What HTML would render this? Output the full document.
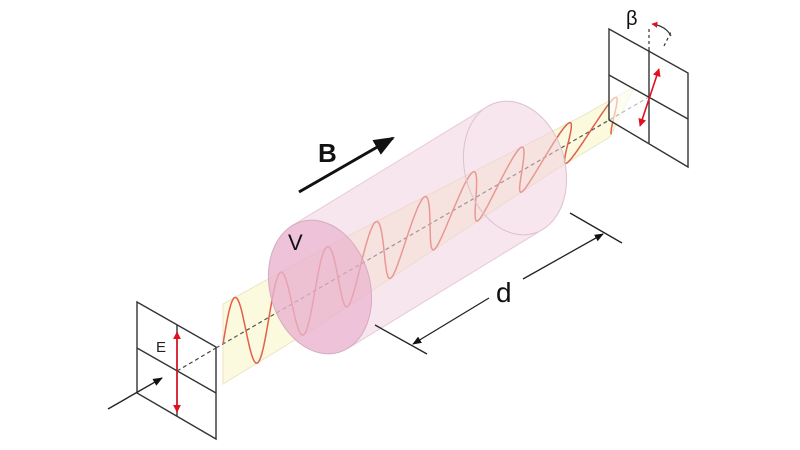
<!DOCTYPE html>
<html><head><meta charset="utf-8"><style>
html,body{margin:0;padding:0;background:#fff;width:800px;height:450px;overflow:hidden}
svg{display:block}
text{font-family:"Liberation Sans",sans-serif}
</style></head><body>
<svg id="s" width="800" height="450" viewBox="0 0 800 450" xmlns="http://www.w3.org/2000/svg">
<defs>
<marker id="ah" viewBox="0 0 10 10" refX="9" refY="5" markerWidth="7" markerHeight="7" orient="auto-start-reverse"><path d="M0,1 L10,5 L0,9 z" fill="#111"/></marker>
<marker id="rh" viewBox="0 0 10 10" refX="9" refY="5" markerWidth="5" markerHeight="6" orient="auto-start-reverse"><path d="M0,0 L10,5 L0,10 z" fill="#e01020"/></marker>
</defs>
<g stroke="#333" stroke-width="1.4" fill="none">
<polygon points="137,302 216,347 216,439 137,393" fill="#fff"/>
<line x1="137" y1="348" x2="216" y2="393"/>
<line x1="177" y1="325" x2="177" y2="416"/>
</g>
<line x1="177" y1="412" x2="177" y2="332" stroke="#e01020" stroke-width="1.6" marker-start="url(#rh)" marker-end="url(#rh)"/>
<text x="156" y="352" font-size="15" fill="#222">E</text>
<line x1="108" y1="409" x2="162" y2="378" stroke="#222" stroke-width="1.4" marker-end="url(#ah)"/>
<line x1="177" y1="371" x2="216" y2="348" stroke="#444" stroke-width="1.2" stroke-dasharray="4,3"/>
<g id="rib"></g>
<g id="cyl"></g>
<text x="288" y="250" font-size="22" fill="#111">V</text>
<g stroke="#333" stroke-width="1.4" fill="none">
<polygon points="609,29 688,73 688,167 609,120" fill="rgba(255,255,255,0.6)"/>
<line x1="609" y1="75" x2="688" y2="119"/>
<line x1="649" y1="50" x2="649" y2="143"/>
</g>
<line x1="649" y1="50" x2="649" y2="28" stroke="#333" stroke-width="1.2" stroke-dasharray="3,3"/>
<line x1="664" y1="46" x2="671" y2="32" stroke="#333" stroke-width="1.2" stroke-dasharray="3,3"/>
<path d="M652,24 Q666,26 671,36" stroke="#333" stroke-width="1.2" fill="none" marker-start="url(#rh)"/>
<text x="626" y="25" font-size="20" fill="#111">β</text>
<line x1="640" y1="126" x2="659" y2="69" stroke="#e01020" stroke-width="1.6" marker-start="url(#rh)" marker-end="url(#rh)"/>
<text x="318" y="162" font-size="26" font-weight="bold" fill="#111">B</text>
<line x1="299" y1="192" x2="393" y2="138" stroke="#111" stroke-width="3" marker-end="url(#ah)"/>
<g stroke="#222" stroke-width="1.3">
<line x1="375" y1="325" x2="427" y2="354"/>
<line x1="570" y1="213" x2="622" y2="243"/>
<line x1="489" y1="298" x2="413" y2="344" marker-end="url(#ah)"/>
<line x1="523" y1="279" x2="603" y2="234" marker-end="url(#ah)"/>
</g>
<text x="496" y="302" font-size="28" fill="#111">d</text>
</svg>
<script>
(function(){
var A=[223,344],B=[622,112];
var N=800,top=[],bot=[],wave=[];
function th(x){var a=(x-320)/(567-320);a=Math.max(0,Math.min(1,a));return a*0.45;}
for(var i=0;i<=N;i++){
 var t=i/N,x=A[0]+t*(B[0]-A[0]),y=A[1]+t*(B[1]-A[1]);
 var q=th(x),dx=Math.sin(q),dy=-Math.cos(q);
 var amp=40-12*t;
 top.push((x+dx*amp).toFixed(1)+','+(y+dy*amp).toFixed(1));
 bot.unshift((x-dx*amp).toFixed(1)+','+(y-dy*amp).toFixed(1));
 var s=Math.sin(2*Math.PI*(x-A[0])/46);
 wave.push((x+dx*amp*s).toFixed(1)+','+(y+dy*amp*s).toFixed(1));
}
document.getElementById('rib').innerHTML='<polygon points="'+top.join(' ')+' '+bot.join(' ')+'" fill="#fbf9de" stroke="#ebe6c4" stroke-width="1"/>'+
'<line x1="216" y1="348" x2="649" y2="97" stroke="#555" stroke-width="1.2" stroke-dasharray="4,3"/>'+
'<polyline points="'+wave.join(' ')+'" fill="none" stroke="#e0604a" stroke-width="1.5"/>';
// cylinder
var c1=[320,287],c2=[515,168],rx=50,ry=68,al=-16*Math.PI/180,ca=Math.cos(al),sa=Math.sin(al);
var v=[c2[0]-c1[0],c2[1]-c1[1]];
function P(c,f){var ex=rx*Math.cos(f),ey=ry*Math.sin(f);return [c[0]+ex*ca-ey*sa,c[1]+ex*sa+ey*ca];}
function g(f){var dx=-rx*Math.sin(f)*ca-ry*Math.cos(f)*sa,dy=-rx*Math.sin(f)*sa+ry*Math.cos(f)*ca;return dx*v[1]-dy*v[0];}
var roots=[],M=720;
for(var i=0;i<M;i++){var a=i/M*2*Math.PI,b=(i+1)/M*2*Math.PI;if(g(a)*g(b)<=0&&roots.length<2)roots.push((a+b)/2);}
var f1=roots[0],f2=roots[1];
function pt(p){return p[0].toFixed(1)+','+p[1].toFixed(1);}
var a1=P(c1,f1),a2=P(c1,f2),b1=P(c2,f1),b2=P(c2,f2);
var body='<polygon points="'+pt(a1)+' '+pt(b1)+' '+pt(b2)+' '+pt(a2)+'" fill="#f2cfe0"/>';
var el=function(c,fill,stroke,op){return '<ellipse cx="'+c[0]+'" cy="'+c[1]+'" rx="'+rx+'" ry="'+ry+'" transform="rotate(-16 '+c[0]+' '+c[1]+')" fill="'+fill+'" stroke="'+stroke+'" stroke-width="1"'+(op?' opacity="'+op+'"':'')+'/>';};
var h='<g opacity="0.5">'+body+el(c2,'#f2cfe0','none')+el(c1,'#f2cfe0','none')+'</g>';
h+=el(c2,'none','#dcc0ce');
h+='<line x1="'+a1[0]+'" y1="'+a1[1]+'" x2="'+b1[0]+'" y2="'+b1[1]+'" stroke="#e6cad7"/>';
h+='<line x1="'+a2[0]+'" y1="'+a2[1]+'" x2="'+b2[0]+'" y2="'+b2[1]+'" stroke="#e6cad7"/>';
h+=el(c1,'rgba(232,170,200,0.6)','#d6aac0');
document.getElementById('cyl').innerHTML=h;
})();
</script>
</body></html>
